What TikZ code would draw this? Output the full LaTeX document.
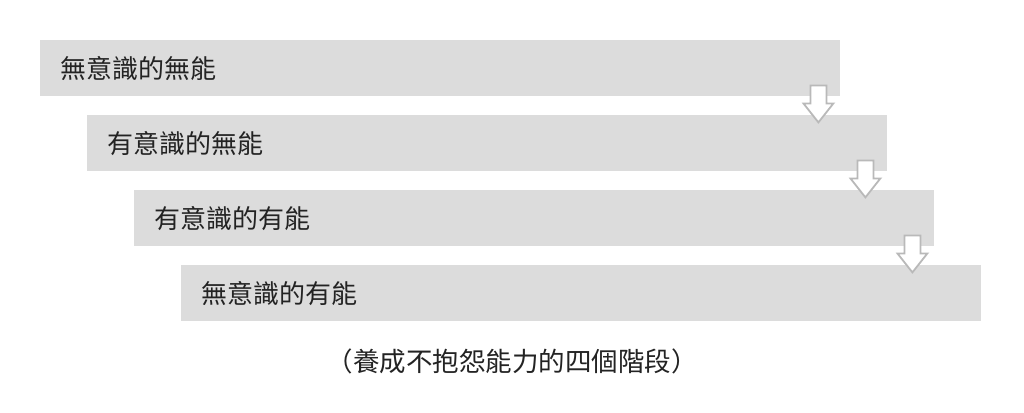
\documentclass[tikz,border=0pt]{standalone}
\usepackage{fontspec}
\setmainfont{Noto Sans CJK TC}
\usetikzlibrary{calc}

\definecolor{barfill}{RGB}{220,220,220}
\definecolor{arrowline}{RGB}{185,185,185}
\definecolor{textgray}{RGB}{35,35,35}

\tikzset{
  stagebar/.style={fill=barfill, draw=none, minimum height=56pt, text width=760pt,
    inner xsep=20pt, inner ysep=0pt, align=left, anchor=north west,
    font=\fontsize{26}{26}\selectfont, text=textgray},
  blockarrow/.style={draw=arrowline, fill=white, line width=1.8pt, line join=miter}
}

\begin{document}
\begin{tikzpicture}[x=1pt,y=-1pt]

\useasboundingbox (0,0) rectangle (1024,412);

\node[stagebar] (b1) at (40,40) {無意識的無能};
\node[stagebar] (b2) at (87,115) {有意識的無能};
\node[stagebar] (b3) at (134,190) {有意識的有能};
\node[stagebar] (b4) at (181,265) {無意識的有能};

% block arrows between stages
\foreach \i in {1,2,3} {
  \draw[blockarrow] ($(b\i.south east)+(-30,-11)$) -- ++(16,0) -- ++(0,18) -- ++(7,0)
    -- ++(-15,19) -- ++(-15,-19) -- ++(7,0) -- cycle;
}

\node[font=\fontsize{26.5}{26.5}\selectfont, text=textgray] (cap) at (512,361) {（養成不抱怨能力的四個階段）};

\end{tikzpicture}
\end{document}
